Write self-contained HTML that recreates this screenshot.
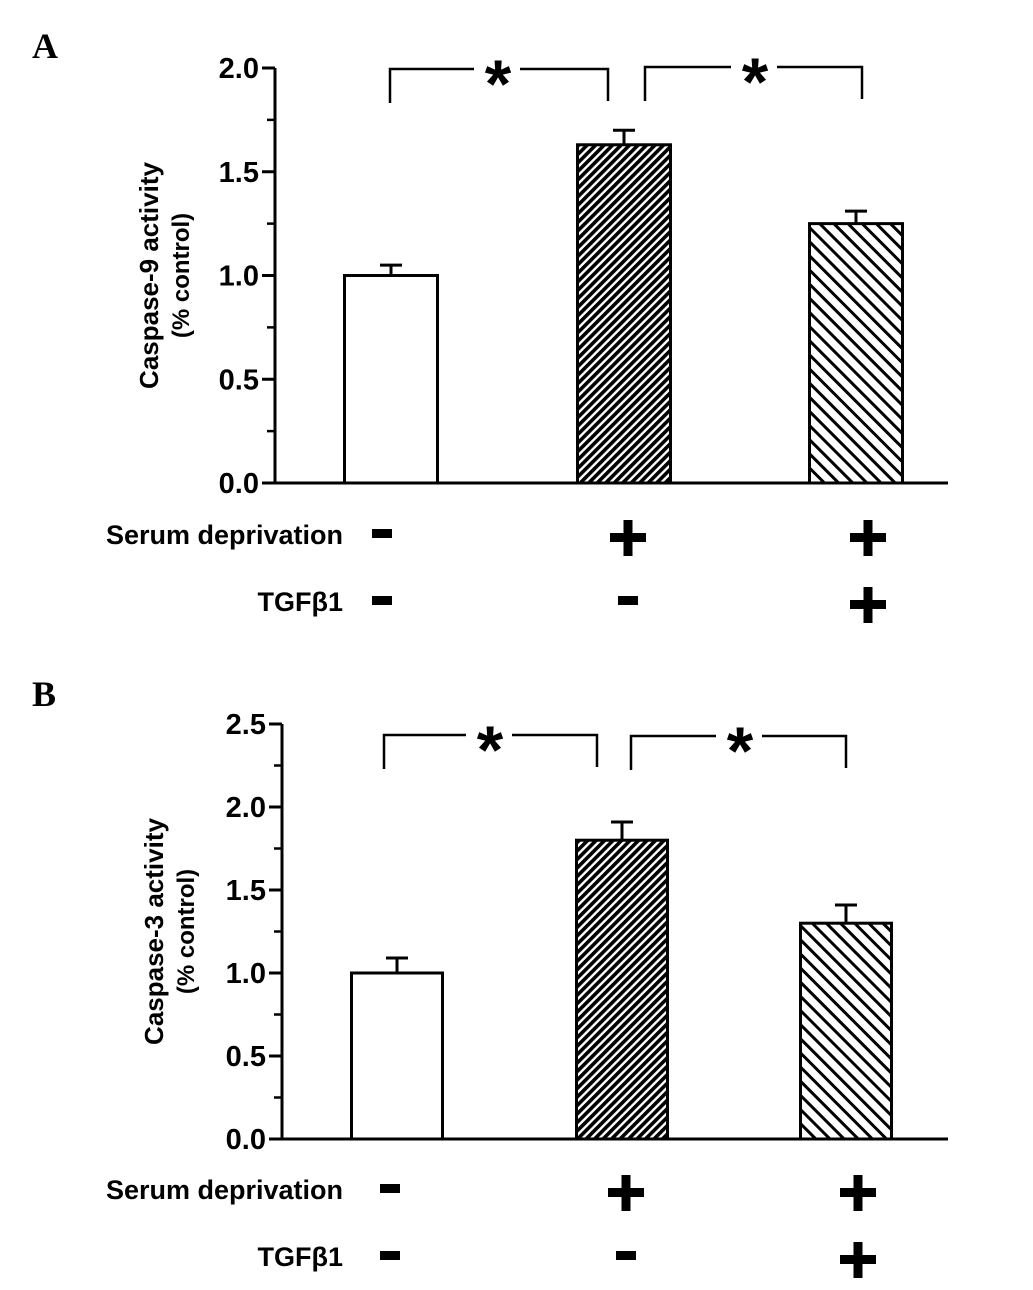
<!DOCTYPE html>
<html><head><meta charset="utf-8"><style>
body{margin:0;background:#fff;}
svg{display:block;font-family:"Liberation Sans",Arial,sans-serif;}
</style></head><body>
<svg id="fig" width="1033" height="1290" viewBox="0 0 1033 1290">
<defs>
<pattern id="dense" patternUnits="userSpaceOnUse" width="6" height="6" patternTransform="rotate(45)">
<rect width="6" height="6" fill="#fff"/><rect width="3.6" height="6" fill="#000"/></pattern>
<pattern id="sparse" patternUnits="userSpaceOnUse" width="10" height="10" patternTransform="rotate(-45)">
<rect width="10" height="10" fill="#fff"/><rect width="3" height="10" fill="#000"/></pattern>
</defs>
</svg>
<script>
const categories=["Control","Serum deprivation","Serum deprivation + TGFβ1"];
const meansA=[1.0,1.63,1.25];
const errA=[0.05,0.07,0.06];
const meansB=[1.0,1.8,1.3];
const errB=[0.09,0.11,0.11];
const serumSigns=["-","+","+"];
const tgfSigns=["-","-","+"];
const ticksA=["0.0","0.5","1.0","1.5","2.0"];
const ticksB=["0.0","0.5","1.0","1.5","2.0","2.5"];
const NS="http://www.w3.org/2000/svg";
const svg=document.getElementById('fig');
function mk(t,a,p){const e=document.createElementNS(NS,t);for(const k in a)e.setAttribute(k,a[k]);(p||svg).appendChild(e);return e;}
const fills=["#fff","url(#dense)","url(#sparse)"];
function panel(o){
  const g=mk('g',{});
  
  
  const max=parseFloat(o.ticks[o.ticks.length-1]);
  const y=v=>o.y0-(v/max)*(o.y0-o.yTop);
  const L=mk('text',{x:32,y:o.letterY,'font-size':36,'font-weight':'bold','font-family':'Liberation Serif,serif'},g);L.textContent=o.letter;
  
  const ax=mk('path',{d:`M${o.ax},${o.yTop} V${o.y0} H${o.xEnd}`,stroke:'#000','stroke-width':3,fill:'none'},g);
  
  for(let i=0;i<o.ticks.length;i++){
    const v=parseFloat(o.ticks[i]);const yy=y(v);
    mk('line',{x1:o.ax-13,x2:o.ax,y1:yy,y2:yy,stroke:'#000','stroke-width':3},g);
    const t=mk('text',{x:o.ax-16,y:yy+10,'font-size':29,'font-weight':'bold','text-anchor':'end'},g);t.textContent=o.ticks[i];
    
    if(i<o.ticks.length-1){const ym=y(v+0.25);mk('line',{x1:o.ax-8,x2:o.ax,y1:ym,y2:ym,stroke:'#000','stroke-width':2.5},g);}
  }
  const yt=mk('text',{transform:`translate(${o.titleX},${(o.y0+o.yTop)/2}) rotate(-90)`,'font-size':26,'font-weight':'bold','text-anchor':'middle'},g);
  
  const t1=mk('tspan',{x:0,dy:0},yt);t1.textContent=o.title;
  const t2=mk('tspan',{x:0,dy:31,'font-size':24},yt);t2.textContent="(% control)";
  o.means.forEach((m,i)=>{
    const cx=o.centers[i];const w=o.bw;
    const eb=mk('path',{d:`M${cx},${y(m)} V${y(m+o.err[i])} M${cx-11},${y(m+o.err[i])} H${cx+11}`,stroke:'#000','stroke-width':3,fill:'none'},g);
    
    const r=mk('rect',{x:cx-w/2,y:y(m),width:w,height:o.y0-y(m),fill:fills[i],stroke:'#000','stroke-width':3},g);
    
  });
  o.brackets.forEach(b=>{
    const p=mk('path',{d:`M${b[0]},${b[2]+34} V${b[2]} H${b[4]-26} M${b[4]+20},${b[2]} H${b[1]} V${b[2]+32}`,stroke:'#000','stroke-width':2.5,fill:'none'},g);
    
    const s=mk('text',{x:b[4]-2,y:b[2]+38,'font-size':68,'font-weight':'bold','text-anchor':'middle'},g);s.textContent='*';
    
  });
  [[ "Serum deprivation",serumSigns,o.row1],["TGFβ1",tgfSigns,o.row2]].forEach(([lab,signs,ry])=>{
    const t=mk('text',{x:343,y:ry+11,'font-size':27,'font-weight':'bold','text-anchor':'end'},g);t.textContent=lab;
    
    signs.forEach((s,i)=>{
      const cx=o.signX[i];
      const sg=mk('g',{},g);
      
      if(s==='-')mk('rect',{x:cx-10,y:ry-4,width:20,height:9,fill:'#000'},sg);
      else{mk('rect',{x:cx-18,y:ry,width:36,height:9,fill:'#000'},sg);mk('rect',{x:cx-4.5,y:ry-13,width:9,height:36,fill:'#000'},sg);}
    });
  });
}
panel({name:'panel-a',letter:'A',letterY:58,ax:275,yTop:68,y0:483,xEnd:948,ticks:ticksA,title:'Caspase-9 activity',titleX:158,
  means:meansA,err:errA,centers:[391,624,856],bw:93,
  brackets:[[390,608,69,0,500],[645,862,67,0,757]],row1:533,row2:600,signX:[382,628,868]});
panel({name:'panel-b',letter:'B',letterY:706,ax:282,yTop:724,y0:1139,xEnd:948,ticks:ticksB,title:'Caspase-3 activity',titleX:163,
  means:meansB,err:errB,centers:[397,622,846],bw:91,
  brackets:[[384,597,735,0,492],[631,846,736,0,742]],row1:1188,row2:1255,signX:[390,626,858]});
</script>
</body></html>
